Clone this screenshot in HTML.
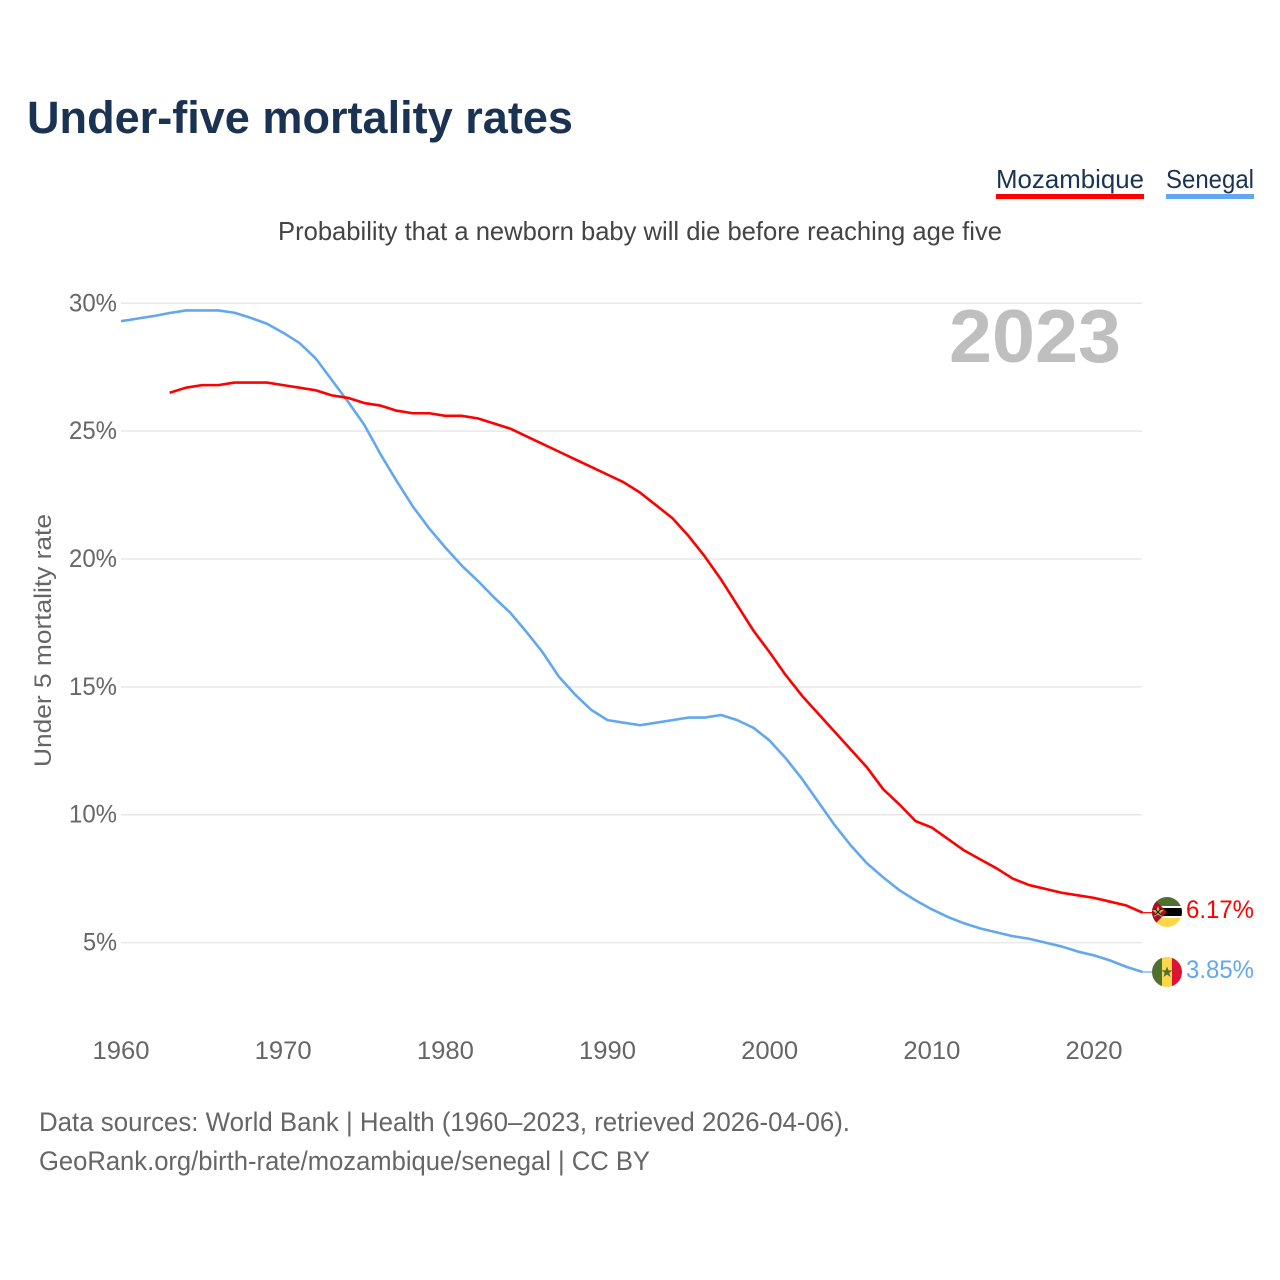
<!DOCTYPE html>
<html lang="en">
<head>
<meta charset="utf-8">
<title>Under-five mortality rates</title>
<style>
html,body{margin:0;padding:0;background:#fff;width:1280px;height:1280px;overflow:hidden}
svg{display:block}
text{font-family:"Liberation Sans",sans-serif}
</style>
</head>
<body>
<svg id="chart" xmlns="http://www.w3.org/2000/svg" width="1280" height="1280" viewBox="0 0 1280 1280">
  <defs>
    <clipPath id="clip-moz"><circle cx="1167" cy="912" r="15"/></clipPath>
    <clipPath id="clip-sen"><circle cx="1167" cy="972" r="15"/></clipPath>
  </defs>
  <text x="27" y="133" font-size="45" font-weight="700" fill="#1a3353" textLength="546" lengthAdjust="spacingAndGlyphs">Under-five mortality rates</text>

  <g>
    <text x="996" y="188" font-size="26" fill="#1a3353" textLength="148" lengthAdjust="spacingAndGlyphs">Mozambique</text>
    <rect x="996" y="194" width="148" height="5" fill="#ff0000"/>
  </g>
  <g>
    <text x="1166" y="188" font-size="26" fill="#1a3353" textLength="88" lengthAdjust="spacingAndGlyphs">Senegal</text>
    <rect x="1166" y="194" width="88" height="5" fill="#63a8ee"/>
  </g>

  <text x="278" y="240" font-size="26" fill="#444444" textLength="724" lengthAdjust="spacingAndGlyphs">Probability that a newborn baby will die before reaching age five</text>

  <g id="grid"></g>
  <g id="yticks"></g>
  <g id="xticks"></g>

  <text x="949" y="362" font-size="75" font-weight="700" fill="#bfbfbf" textLength="172" lengthAdjust="spacingAndGlyphs">2023</text>

  <text transform="translate(51,767) rotate(-90)" x="0" y="0" font-size="24.5" fill="#666666" textLength="253" lengthAdjust="spacingAndGlyphs">Under 5 mortality rate</text>

  <g id="series"></g>

  <g clip-path="url(#clip-moz)">
    <rect x="1152" y="897" width="30" height="9" fill="#4f7031"/>
    <rect x="1152" y="906" width="30" height="2" fill="#ffffff"/>
    <rect x="1152" y="908" width="30" height="8" fill="#000000"/>
    <rect x="1152" y="916" width="30" height="2" fill="#ffffff"/>
    <rect x="1152" y="918" width="30" height="9" fill="#fbd84a"/>
    <polygon points="1152,897 1167,912 1152,927" fill="#a5102a"/>
    <polygon points="1158,906 1159.5,910 1164,910 1160.5,912.7 1162,917 1158,914.5 1154,917 1155.5,912.7 1152,910 1156.5,910" fill="#e3b23c"/>
    <path d="M1155 909l6 6M1161 909l-6 6" stroke="#1a1a1a" stroke-width="1.2"/>
  </g>
  <g clip-path="url(#clip-sen)">
    <rect x="1152" y="957" width="10" height="30" fill="#4f7031"/>
    <rect x="1162" y="957" width="10" height="30" fill="#fbd84a"/>
    <rect x="1172" y="957" width="10" height="30" fill="#dc1433"/>
    <polygon points="1167,966.5 1168.5,970.4 1172.5,970.4 1169.3,972.9 1170.5,977 1167,974.5 1163.5,977 1164.7,972.9 1161.5,970.4 1165.5,970.4" fill="#4f7031"/>
  </g>

  <text x="1186" y="918" font-size="25" fill="#ff0000" textLength="68" lengthAdjust="spacingAndGlyphs">6.17%</text>
  <text x="1186" y="978" font-size="25" fill="#63a8ee" textLength="68" lengthAdjust="spacingAndGlyphs">3.85%</text>

  <text x="39" y="1131" font-size="27" fill="#666666" textLength="811" lengthAdjust="spacingAndGlyphs">Data sources: World Bank | Health (1960–2023, retrieved 2026-04-06).</text>
  <text x="39" y="1170" font-size="27" fill="#666666" textLength="611" lengthAdjust="spacingAndGlyphs">GeoRank.org/birth-rate/mozambique/senegal | CC BY</text>
</svg>
<script>
var xTickYears = [1960, 1970, 1980, 1990, 2000, 2010, 2020];
var yTickValues = [5, 10, 15, 20, 25, 30];
var yearsSenegalStart = 1960;
var yearsMozambiqueStart = 1963;
var senegalValues = [29.3, 29.4, 29.5, 29.62, 29.72, 29.72, 29.72, 29.63, 29.43, 29.2,
  28.85, 28.45, 27.85, 27.0, 26.15, 25.25, 24.1, 23.05, 22.05, 21.2,
  20.45, 19.75, 19.15, 18.5, 17.9, 17.15, 16.35, 15.4, 14.7, 14.1,
  13.7, 13.6, 13.5, 13.6, 13.7, 13.8, 13.8, 13.9, 13.7, 13.4,
  12.9, 12.2, 11.4, 10.5, 9.6, 8.8, 8.1, 7.55, 7.05, 6.65,
  6.3, 6.0, 5.75, 5.55, 5.4, 5.25, 5.15, 5.0, 4.85, 4.65,
  4.5, 4.3, 4.05, 3.85];
var mozambiqueValues = [26.5, 26.7, 26.8, 26.8, 26.9, 26.9, 26.9,
  26.8, 26.7, 26.6, 26.4, 26.3, 26.1, 26.0, 25.8, 25.7, 25.7,
  25.6, 25.6, 25.5, 25.3, 25.1, 24.8, 24.5, 24.2, 23.9, 23.6,
  23.3, 23.0, 22.6, 22.1, 21.6, 20.9, 20.1, 19.2, 18.2, 17.2,
  16.35, 15.45, 14.65, 13.95, 13.25, 12.55, 11.85, 11.0, 10.4, 9.75,
  9.5, 9.05, 8.6, 8.25, 7.9, 7.5, 7.25, 7.1, 6.95, 6.85,
  6.75, 6.6, 6.45, 6.17];

var NS = 'http://www.w3.org/2000/svg';
function xScale(year) { return 121 + (year - 1960) * (1094 - 121) / 60; }
function yScale(v) { return 942.6 - (v - 5) * (942.6 - 303.3) / 25; }
function make(tag, attrs, parent) {
  var el = document.createElementNS(NS, tag);
  for (var k in attrs) { el.setAttribute(k, attrs[k]); }
  parent.appendChild(el);
  return el;
}

var gridG = document.getElementById('grid');
var yG = document.getElementById('yticks');
var xG = document.getElementById('xticks');
var seriesG = document.getElementById('series');

yTickValues.forEach(function (v) {
  var line = make('line', { x1: 121, x2: 1142, y1: yScale(v), y2: yScale(v), stroke: '#e8e8e8', 'stroke-width': 1.5 }, gridG);
  
  
  var label = make('text', { x: 117, y: yScale(v) + 8, 'text-anchor': 'end', 'font-size': 25, fill: '#666666' }, yG);
  
  
  label.setAttribute('textLength', v < 10 ? 34 : 48);
  label.setAttribute('lengthAdjust', 'spacingAndGlyphs');
  label.textContent = v + '%';
});

xTickYears.forEach(function (yr) {
  var label = make('text', { x: xScale(yr), y: 1059, 'text-anchor': 'middle', 'font-size': 25, fill: '#666666' }, xG);
  
  
  label.setAttribute('textLength', 57);
  label.setAttribute('lengthAdjust', 'spacingAndGlyphs');
  label.textContent = yr;
});

function drawSeries(values, startYear, color, name) {
  var pts = values.map(function (v, i) { return xScale(startYear + i).toFixed(2) + ',' + yScale(v).toFixed(2); });
  var path = make('polyline', { points: pts.join(' '), fill: 'none', stroke: color, 'stroke-width': 2.6, 'stroke-linejoin': 'round', 'stroke-linecap': 'butt' }, seriesG);
  
  
  var lastY = yScale(values[values.length - 1]);
  var lastX = xScale(startYear + values.length - 1);
  var conn = make('line', { x1: lastX, x2: 1153, y1: lastY, y2: lastY, stroke: color, 'stroke-width': 1.2 }, seriesG);
  
  
}
drawSeries(senegalValues, yearsSenegalStart, '#63a8ee', 'line-senegal');
drawSeries(mozambiqueValues, yearsMozambiqueStart, '#ff0000', 'line-mozambique');
</script>
</body>
</html>
